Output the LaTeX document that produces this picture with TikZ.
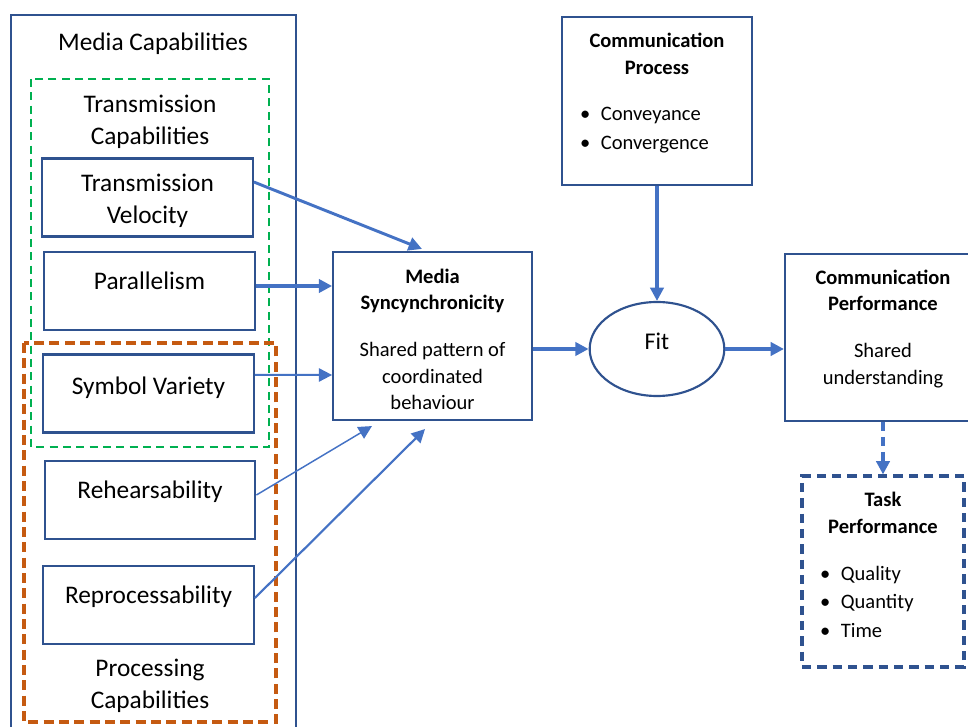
\documentclass[tikz,border=0pt]{standalone}
\usepackage{fontspec}
\setmainfont{Carlito}
\usetikzlibrary{arrows.meta,positioning,shapes.geometric}
\definecolor{boxblue}{HTML}{2F528F}
\definecolor{arrblue}{HTML}{4472C4}
\definecolor{grpgreen}{HTML}{00B050}
\definecolor{grporange}{HTML}{C55A11}
\newcommand{\bitem}[2]{\makebox[#1][l]{\textbullet\hspace{8pt}#2}}

\begin{document}
\begin{tikzpicture}[x=0.75pt,y=-0.75pt]
  \tikzstyle{big}=[font=\fontsize{19}{24}\selectfont]
  \tikzstyle{small}=[font=\fontsize{15.4}{20}\selectfont]
  \tikzstyle{capbox}=[rectangle,draw=boxblue,line width=1.6pt,minimum width=158pt,minimum height=58.5pt,inner sep=0pt,align=center,big]
  \tikzstyle{capup}=[capbox,text depth=15pt]
  \tikzstyle{mainbox}=[rectangle,draw=boxblue,line width=1.6pt,inner sep=0pt,align=center,small]
  \tikzstyle{arr}=[-{Triangle[length=10pt,width=10pt]},draw=arrblue,line width=2.4pt]
  \path[use as bounding box] (0,0) rectangle (968,727);
  \clip (0,0) rectangle (968,727);

  % media capabilities panel
  \draw[boxblue,line width=1.5pt] (11,15) rectangle (296,760);
  \node[big] (mcap) at (153,44) {Media Capabilities};
  \draw[grpgreen,line width=2.2pt,dash pattern=on 6pt off 4pt] (31,79) rectangle (269,447);
  \node[big,align=center] (tcap) at (150,122) {Transmission\\Capabilities};
  \draw[grporange,line width=2.6pt,dash pattern=on 7.5pt off 4pt] (24,343) rectangle (276,722);
  \node[big,align=center] (pcap) at (150,686) {Processing\\Capabilities};

  \node[capbox,text depth=0pt] (tv) at (147.5,197.5) {\rule{0pt}{15pt}Transmission\\Velocity};
  \node[capup] (par) at (149.5,291) {Parallelism};
  \node[capup,text depth=12pt] (sv) at (148.5,393.5) {Symbol Variety};
  \node[capup] (reh) at (150,500) {Rehearsability};
  \node[capup] (rep) at (148.5,605) {Reprocessability};

  % right part
  \node[mainbox,minimum width=149pt,minimum height=126pt] (ms) at (432.5,336)
    {\rule{0pt}{16pt}\bfseries Media\\\bfseries Syncynchronicity\\[15pt]Shared pattern of\\coordinated\\behaviour};
  \node[mainbox,minimum width=142.5pt,minimum height=126pt,text depth=14.5pt] (cp) at (657,101)
    {\bfseries Communication\\\bfseries Process\\[15pt]\bitem{115.5pt}{Conveyance}\\[1.5pt]\bitem{115.5pt}{Convergence}};
  \node[ellipse,draw=boxblue,line width=1.6pt,minimum width=101pt,minimum height=70.5pt,inner sep=0pt,
    font=\fontsize{18}{22}\selectfont,text depth=12pt] (fit) at (657,349) {Fit};
  \node[mainbox,minimum width=147pt,minimum height=125pt,text depth=16pt] (cperf) at (883,337.5)
    {\bfseries Communication\\\bfseries Performance\\[15pt]Shared\\understanding};
  \node[mainbox,line width=2.6pt,dash pattern=on 7pt off 4.5pt,minimum width=121.5pt,minimum height=143pt,text depth=10pt] (tp) at (883,571.5)
    {\bfseries Task\\\bfseries Performance\\[15pt]\bitem{94.5pt}{Quality}\\[1.5pt]\bitem{94.5pt}{Quantity}\\[1.5pt]\bitem{94.5pt}{Time}};

  % connectors
  \draw[arr,line width=2.2pt] ([yshift=11.6pt]tv.east) -- ([xshift=-7.9pt,yshift=1.5pt]ms.north);
  \draw[arr] ([yshift=3.75pt]par.east) -- ([yshift=37.5pt]ms.west);
  \draw[arr,line width=1.5pt] ([yshift=13.9pt]sv.east) -- ([yshift=-29.25pt]ms.west);
  \draw[arr,line width=1.1pt] ([yshift=3.75pt]reh.east) -- ([xshift=-45.4pt,yshift=-3.75pt]ms.south);
  \draw[arr,line width=1.6pt] ([yshift=5.25pt]rep.east) -- ([xshift=-5.6pt,yshift=-6pt]ms.south);
  \draw[arr] (fit.west -| ms.east) -- (fit.west);
  \draw[arr] (cp.south) -- (fit.north);
  \draw[arr] (fit.east) -- (fit.east -| cperf.west);
  \draw[arr,dash pattern=on 6.75pt off 4.5pt] (cperf.south) -- (tp.north);
\end{tikzpicture}
\end{document}
